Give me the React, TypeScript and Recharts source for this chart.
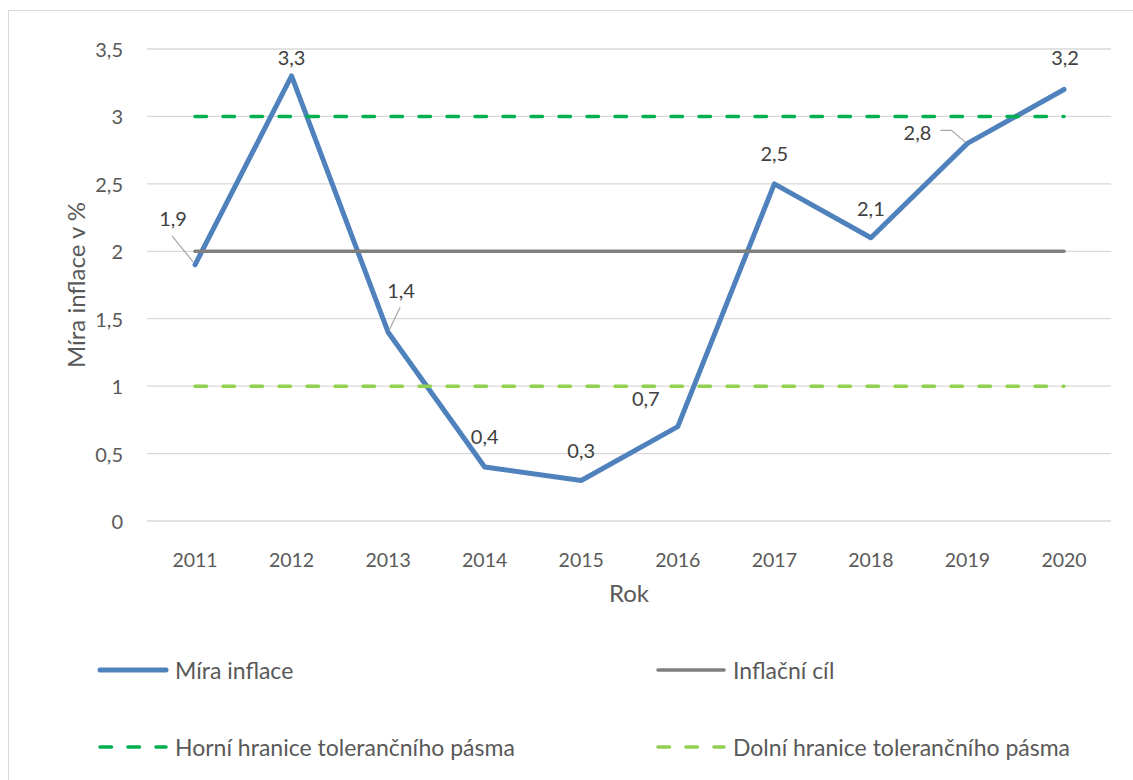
import React from 'react';
import { LineChart, Line, XAxis, YAxis, CartesianGrid, Legend, LabelList } from 'recharts';

const years = ['2011', '2012', '2013', '2014', '2015', '2016', '2017', '2018', '2019', '2020'];
const miraInflace = [1.9, 3.3, 1.4, 0.4, 0.3, 0.7, 2.5, 2.1, 2.8, 3.2];
const inflacniCil = [2, 2, 2, 2, 2, 2, 2, 2, 2, 2];
const horniHranice = [3, 3, 3, 3, 3, 3, 3, 3, 3, 3];
const dolniHranice = [1, 1, 1, 1, 1, 1, 1, 1, 1, 1];
const yTicks = [0, 0.5, 1, 1.5, 2, 2.5, 3, 3.5];

// where Excel put each data label, relative to its point
const labelOffsets = [
  [-22, -47], [0, -19], [13, -42], [0, -31], [0, -31],
  [-32, -29], [0, -31], [0, -30], [-50, -11], [1, -32],
];
const leaderLines: Record<number, number[][]> = {
  0: [[-2, -3], [-23, -29]],
  2: [[1, -2], [12, -25]],
  8: [[-2, -1], [-16, -13], [-27, -13]],
};

const FONT = 'Lato, Carlito, Calibri, sans-serif';
const TEXT = '#595959';

const data = years.map((rok, i) => ({
  rok,
  inflace: miraInflace[i],
  cil: inflacniCil[i],
  horni: horniHranice[i],
  dolni: dolniHranice[i],
}));

const fmt = (v: number) => String(v).replace('.', ',');

const series = [
  { key: 'inflace', name: 'Míra inflace', color: '#4f81bd', width: 5, dash: undefined },
  { key: 'cil', name: 'Inflační cíl', color: '#7f7f7f', width: 3.5, dash: undefined },
  { key: 'horni', name: 'Horní hranice tolerančního pásma', color: '#00b050', width: 3.5, dash: '11.5 16.5' },
  { key: 'dolni', name: 'Dolní hranice tolerančního pásma', color: '#92d050', width: 3.5, dash: '11.5 16.5' },
];

const XTick = (props: any) => {
  const { x, y, payload } = props;
  return (
    <text x={x} y={y + 30} textAnchor="middle" dominantBaseline="central" fill={TEXT} fontSize={19.5} fontFamily={FONT}>
      {payload.value}
    </text>
  );
};

const YTick = (props: any) => {
  const { y, payload } = props;
  return (
    <text x={114} y={y} textAnchor="end" dominantBaseline="central" fill={TEXT} fontSize={20} fontFamily={FONT}>
      {fmt(payload.value)}
    </text>
  );
};

const DataLabel = (props: any) => {
  const { x, y, value, index } = props;
  const [dx, dy] = labelOffsets[index];
  const leader = leaderLines[index];
  return (
    <g>
      {leader && (
        <polyline
          points={leader.map(([a, b]) => `${x + a},${y + b}`).join(' ')}
          fill="none"
          stroke="#a6a6a6"
          strokeWidth={1.2}
        />
      )}
      <text x={x + dx} y={y + dy} textAnchor="middle" dominantBaseline="central" fill="#404040" fontSize={20} fontFamily={FONT}>
        {fmt(value)}
      </text>
    </g>
  );
};

const legendCols = [88, 646];
const legendRows = [29, 106];

const ChartLegend = () => (
  <div style={{ position: 'relative', width: 1120, height: 130, fontFamily: FONT }}>
    {series.map((s, i) => {
      const left = legendCols[i % 2];
      const top = legendRows[Math.floor(i / 2)];
      return (
        <div key={s.key} style={{ position: 'absolute', left, top: top - 14, height: 28, display: 'flex', alignItems: 'center' }}>
          <svg width={76} height={24} style={{ display: 'block' }}>
            <line
              x1={3}
              y1={12}
              x2={69}
              y2={12}
              stroke={s.color}
              strokeWidth={s.width}
              strokeDasharray={s.dash}
              strokeLinecap="round"
            />
          </svg>
          <span style={{ color: TEXT, fontSize: 23, marginLeft: 2, whiteSpace: 'nowrap' }}>{s.name}</span>
        </div>
      );
    })}
  </div>
);

export default function App() {
  return (
    <div
      style={{
        position: 'absolute',
        left: 8,
        top: 10,
        width: 1125,
        height: 770,
        borderLeft: '1px solid #d9d9d9',
        borderTop: '1px solid #d9d9d9',
        background: '#fff',
      }}
    >
      <LineChart width={1120} height={770} data={data} margin={{ top: 38, right: 18, left: 18, bottom: 180 }}>
        <CartesianGrid vertical={false} stroke="#d9d9d9" strokeWidth={1.3} />
        <XAxis
          dataKey="rok"
          axisLine={false}
          tickLine={false}
          height={80}
          padding={{ left: 48, right: 47 }}
          tick={<XTick />}
          interval={0}
          label={{
            content: (p: any) => {
              const vb = p.viewBox;
              return (
                <text x={vb.x + vb.width / 2} y={vb.y + 71} textAnchor="middle" dominantBaseline="central" fill={TEXT} fontSize={24} fontFamily={FONT}>
                  Rok
                </text>
              );
            },
          }}
        />
        <YAxis
          width={120}
          domain={[0, 3.5]}
          ticks={yTicks}
          axisLine={false}
          tickLine={false}
          tick={<YTick />}
          label={{
            content: (p: any) => {
              const vb = p.viewBox;
              const cx = 66;
              const cy = vb.y + vb.height / 2;
              return (
                <text x={cx} y={cy} transform={`rotate(-90 ${cx} ${cy})`} textAnchor="middle" dominantBaseline="central" fill={TEXT} fontSize={24} fontFamily={FONT}>
                  Míra inflace v %
                </text>
              );
            },
          }}
        />
        <Legend
          layout="vertical"
          align="center"
          verticalAlign="middle"
          wrapperStyle={{ left: 0, top: 630, width: 1120, height: 130 }}
          content={() => <ChartLegend />}
        />
        {series.map((s) => (
          <Line
            key={s.key}
            type="linear"
            dataKey={s.key}
            name={s.name}
            stroke={s.color}
            strokeWidth={s.width}
            strokeDasharray={s.dash}
            strokeLinecap="round"
            strokeLinejoin="round"
            dot={false}
            activeDot={false}
            isAnimationActive={false}
          >
            {s.key === 'inflace' && <LabelList dataKey="inflace" content={<DataLabel />} />}
          </Line>
        ))}
      </LineChart>
    </div>
  );
}
